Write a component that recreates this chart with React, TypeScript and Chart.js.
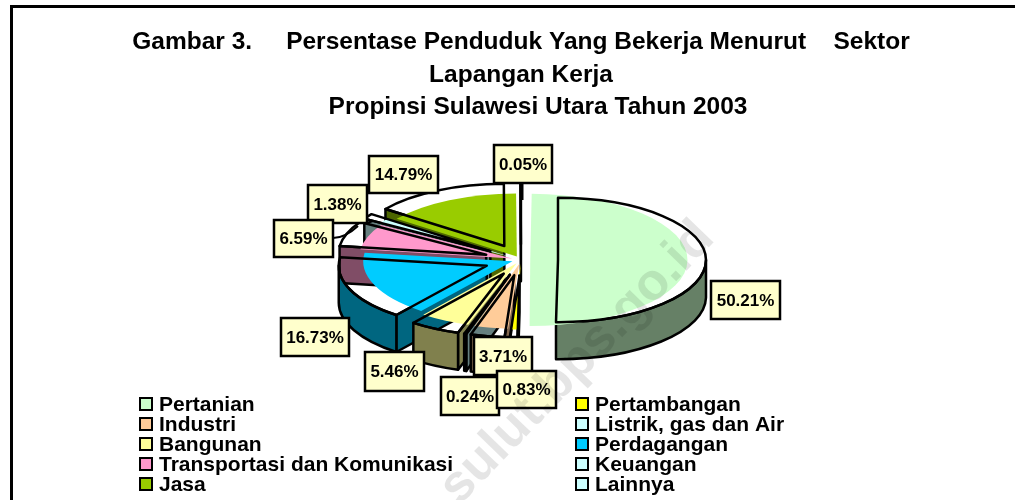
import React, { useEffect, useRef } from "react";
import { Chart, registerables } from "chart.js";

Chart.register(...registerables);

const categories = [
  "Pertanian",
  "Pertambangan",
  "Industri",
  "Listrik, gas dan Air",
  "Bangunan",
  "Perdagangan",
  "Transportasi dan Komunikasi",
  "Keuangan",
  "Jasa",
  "Lainnya",
];
const values = [50.21, 0.83, 3.71, 0.24, 5.46, 16.73, 6.59, 1.38, 14.79, 0.05];
const colors = ["#CCFFCC", "#FFFF00", "#FFCC99", "#CCFFFF", "#FFFF99", "#00CCFF", "#FF99CC", "#CCFFFF", "#99CC00", "#CCFFFF"];
const titleLines = [
  "Gambar 3.     Persentase Penduduk Yang Bekerja Menurut    Sektor",
  "Lapangan Kerja",
  "     Propinsi Sulawesi Utara Tahun 2003",
];

// Legend order in the reference: two columns, read row by row.
const legendLeft = [0, 2, 4, 6, 8];
const legendRight = [1, 3, 5, 7, 9];

// Layout of the callouts (left, top, right, bottom of each box), in paint order.
const calloutOrder = [0, 9, 8, 7, 6, 5, 4, 2, 3, 1];
const calloutBoxes: Record<number, number[]> = {
  0: [711, 281, 780, 319],
  9: [494, 145, 552, 183],
  8: [369, 156, 438, 193],
  7: [308, 185, 367, 223],
  6: [274, 220, 333, 257],
  5: [281, 318, 349, 356],
  4: [365, 352, 424, 391],
  2: [474, 337, 532, 375],
  3: [441, 377, 499, 415],
  1: [497, 371, 556, 408],
};

const SQUASH = 0.42;
const DEPTH = 37;
const FONT = '"Liberation Sans", Arial, sans-serif';

function darken(hex: string) {
  const n = parseInt(hex.slice(1), 16);
  const c = [(n >> 16) & 255, (n >> 8) & 255, n & 255].map((v) => Math.round(v / 2));
  return `rgb(${c[0]},${c[1]},${c[2]})`;
}

function geometry(arc: any) {
  const mid = (arc.startAngle + arc.endAngle) / 2;
  const off = arc.options.offset || 0;
  const ax = arc.x + off * Math.cos(mid);
  const ay = arc.y + off * Math.sin(mid) * SQUASH;
  const r = arc.outerRadius;
  const pt = (t: number) => [ax + r * Math.cos(t), ay + r * Math.sin(t) * SQUASH];
  return { ax, ay, r, a0: arc.startAngle, a1: arc.endAngle, pt };
}

const pie3d = {
  id: "pie3d",
  beforeDraw(chart: any) {
    const { ctx } = chart;
    ctx.save();
    ctx.strokeStyle = "#000";
    ctx.lineWidth = 3;
    ctx.beginPath();
    ctx.moveTo(11.5, 500);
    ctx.lineTo(11.5, 6.5);
    ctx.lineTo(1015, 6.5);
    ctx.stroke();
    ctx.restore();
  },
  beforeDatasetsDraw(chart: any) {
    const { ctx } = chart;
    const meta = chart.getDatasetMeta(0);
    const order = meta.data
      .map((a: any, i: number) => ({ i, g: geometry(a) }))
      .sort((p: any, q: any) => p.g.ay - q.g.ay);
    ctx.save();
    ctx.strokeStyle = "#000";
    ctx.lineWidth = 2.5;
    ctx.lineJoin = "round";
    for (const { i, g } of order) {
      ctx.fillStyle = darken(colors[i]);
      const face = (t: number) => {
        const p = g.pt(t);
        ctx.beginPath();
        ctx.moveTo(g.ax, g.ay);
        ctx.lineTo(p[0], p[1]);
        ctx.lineTo(p[0], p[1] + DEPTH);
        ctx.lineTo(g.ax, g.ay + DEPTH);
        ctx.closePath();
        ctx.fill();
        ctx.stroke();
      };
      if (Math.cos(g.a0) < 0) face(g.a0);
      if (Math.cos(g.a1) > 0) face(g.a1);
      // outer wall: the part of the rim that faces the viewer
      for (const shift of [0, 2 * Math.PI, -2 * Math.PI]) {
        const s = Math.max(g.a0 + shift, 0);
        const e = Math.min(g.a1 + shift, Math.PI);
        if (e > s) {
          ctx.beginPath();
          ctx.ellipse(g.ax, g.ay, g.r, g.r * SQUASH, 0, s, e);
          ctx.ellipse(g.ax, g.ay + DEPTH, g.r, g.r * SQUASH, 0, e, s, true);
          ctx.closePath();
          ctx.fill();
          ctx.stroke();
        }
      }
    }
    ctx.restore();
    const cy = meta.data[0].y;
    ctx.save();
    ctx.translate(0, cy);
    ctx.scale(1, SQUASH);
    ctx.translate(0, -cy);
  },
  afterDatasetsDraw(chart: any) {
    const { ctx } = chart;
    ctx.restore();
    const meta = chart.getDatasetMeta(0);
    ctx.save();
    ctx.strokeStyle = "#000";
    ctx.lineWidth = 2.5;
    ctx.lineJoin = "round";
    meta.data.forEach((a: any) => {
      const g = geometry(a);
      ctx.beginPath();
      ctx.moveTo(g.ax, g.ay);
      ctx.ellipse(g.ax, g.ay, g.r, g.r * SQUASH, 0, g.a0, g.a1);
      ctx.closePath();
      ctx.stroke();
    });
    ctx.restore();
  },
  afterDraw(chart: any) {
    const { ctx } = chart;
    ctx.save();
    // leader lines
    ctx.strokeStyle = "#000";
    ctx.lineWidth = 2;
    ctx.beginPath();
    ctx.moveTo(333, 238);
    ctx.quadraticCurveTo(345, 238, 358, 226);
    ctx.moveTo(367, 223);
    ctx.lineTo(373, 221);
    ctx.stroke();
    ctx.lineWidth = 3;
    ctx.beginPath();
    ctx.moveTo(522, 183);
    ctx.lineTo(522, 200);
    ctx.stroke();

    // callouts
    ctx.textAlign = "center";
    ctx.textBaseline = "middle";
    ctx.font = `bold 17px ${FONT}`;
    for (const i of calloutOrder) {
      const [l, t, r, b] = calloutBoxes[i];
      ctx.fillStyle = "#FFFFCC";
      ctx.strokeStyle = "#000";
      ctx.lineWidth = 2.5;
      ctx.fillRect(l, t, r - l, b - t);
      ctx.strokeRect(l, t, r - l, b - t);
      ctx.fillStyle = "#000";
      ctx.fillText(`${values[i].toFixed(2)}%`, (l + r) / 2, (t + b) / 2 + 1);
    }

    // legend
    ctx.textAlign = "left";
    ctx.textBaseline = "alphabetic";
    ctx.font = `bold 21px ${FONT}`;
    const column = (items: number[], boxX: number) => {
      items.forEach((i, row) => {
        const cy = 404 + row * 20;
        ctx.fillStyle = colors[i];
        ctx.strokeStyle = "#000";
        ctx.lineWidth = 2;
        ctx.fillRect(boxX, cy - 6, 12, 12);
        ctx.strokeRect(boxX, cy - 6, 12, 12);
        ctx.fillStyle = "#000";
        ctx.fillText(categories[i], boxX + 19, cy + 7);
      });
    };
    column(legendLeft, 140);
    column(legendRight, 576);

    // watermark
    ctx.translate(716, 240);
    ctx.rotate((-46 * Math.PI) / 180);
    ctx.textAlign = "right";
    ctx.font = `bold 52px ${FONT}`;
    ctx.fillStyle = "rgba(0,0,0,0.1)";
    ctx.fillText("sulut.bps.go.id", 0, 0);
    ctx.restore();
  },
};

export default function App() {
  const ref = useRef<HTMLCanvasElement>(null);
  useEffect(() => {
    const chart = new Chart(ref.current as HTMLCanvasElement, {
      type: "pie",
      data: {
        labels: categories,
        datasets: [
          {
            data: values,
            backgroundColor: colors,
            borderWidth: 0,
            offset: 37,
            clip: false,
          } as any,
        ],
      },
      options: {
        responsive: false,
        animation: false,
        radius: 148,
        rotation: 0,
        layout: { padding: { left: 27, top: 26, bottom: 104 } },
        events: [],
        plugins: {
          legend: { display: false },
          tooltip: { enabled: false },
          title: {
            display: true,
            text: titleLines,
            color: "#000",
            font: { family: FONT, size: 24.5, weight: "bold", lineHeight: 1.33 },
            padding: 0,
          },
        },
      } as any,
      plugins: [pie3d],
    });
    return () => chart.destroy();
  }, []);
  return (
    <canvas
      ref={ref}
      width={1015}
      height={500}
      style={{ position: "absolute", left: 0, top: 0, display: "block" }}
    />
  );
}
